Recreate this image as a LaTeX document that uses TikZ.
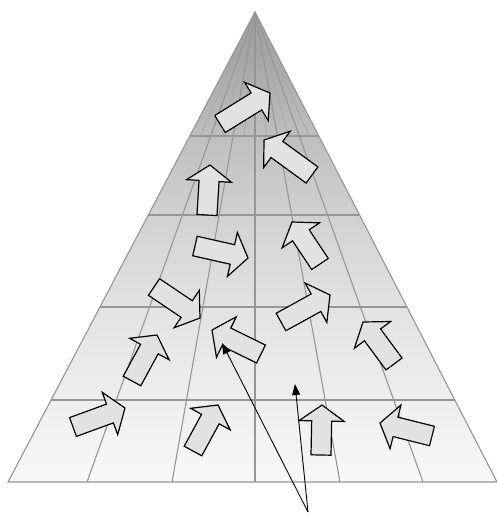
\documentclass[tikz,border=0pt]{standalone}
\usetikzlibrary{calc,arrows.meta}
\definecolor{gridc}{RGB}{150,150,150}
\definecolor{gridl}{RGB}{168,168,168}
\definecolor{sa}{RGB}{248,248,248}
\definecolor{sb}{RGB}{238,238,238}
\definecolor{sc}{RGB}{226,226,226}
\definecolor{sd}{RGB}{210,210,210}
\definecolor{se}{RGB}{190,190,190}
\definecolor{sf}{RGB}{152,152,152}
\definecolor{arrfill}{RGB}{226,226,226}
\pgfdeclareverticalshading{trishade}{100bp}{color(0bp)=(sa); color(25bp)=(sa); color(34bp)=(sb); color(44bp)=(sc); color(53bp)=(sd); color(62bp)=(se); color(75bp)=(sf); color(100bp)=(sf)}
\tikzset{
  gridline/.style={draw=gridc, line width=1.1pt},
  finegrid/.style={draw=gridl, line width=0.8pt},
  blockarrow/.style={draw=black, fill=arrfill, line width=1.2pt, line join=miter},
  pointer/.style={draw=black, line width=0.9pt, -{Triangle[length=11pt,width=8pt]}}
}
\newcommand\barrow[2]{%
  \coordinate (T) at #1; \coordinate (P) at #2;
  \coordinate (H) at ($(P)!16pt!(T)$);
  \draw[blockarrow] ($(T)!10pt!90:(P)$) -- ($(H)!10pt!-90:(T)$) -- ($(H)!22.5pt!-90:(T)$) -- (P)
    -- ($(H)!22.5pt!90:(T)$) -- ($(H)!10pt!90:(T)$) -- ($(T)!10pt!-90:(P)$) -- cycle;
}
\begin{document}
\begin{tikzpicture}[x=1pt,y=-1pt]
\useasboundingbox (0,0) rectangle (497,515);
\coordinate (apex) at (255,12);
\coordinate (L) at (8,482);
\coordinate (R) at (497,482);
\shade[shading=trishade] (apex) -- (L) -- (R) -- cycle;
% fine lines in the top cell
\foreach \bx in {47.5,129.5,213.5,297.5,381.5,460} {
  \coordinate (fb) at (\bx,482);
  \draw[finegrid] (apex) -- ($(apex)!0.2638!(fb)$);
}
% radial lines
\foreach \bx in {87,172,255,340,423} {
  \coordinate (b) at (\bx,482);
  \draw[gridline] (apex) -- (b);
}
% horizontal lines
\foreach \t in {0.2638,0.4319,0.6277,0.8255} {
  \draw[gridline] ($(apex)!\t!(L)$) -- ($(apex)!\t!(R)$);
}
\draw[gridline] (L) -- (apex) -- (R) -- cycle;
% block arrows
\barrow{(220,124)}{(270,93)}
\barrow{(312,175)}{(264,140)}
\barrow{(207,215)}{(210,165)}
\barrow{(195,246)}{(248,258)}
\barrow{(320,264)}{(292,222)}
\barrow{(154,287)}{(200,318)}
\barrow{(261,354)}{(212,330)}
\barrow{(281,322)}{(330,295)}
\barrow{(394,364)}{(363,322)}
\barrow{(132,381)}{(157,335)}
\barrow{(73,427)}{(125,408)}
\barrow{(193,451)}{(218,405)}
\barrow{(321,455)}{(322,405)}
\barrow{(432,436)}{(380,423)}
% pointers
\coordinate (src) at (308,512);
\coordinate (t1) at (222,343);
\coordinate (t2) at (295,384);
\draw[pointer] (src) -- (t1);
\draw[pointer] (src) -- (t2);
\end{tikzpicture}
\end{document}
